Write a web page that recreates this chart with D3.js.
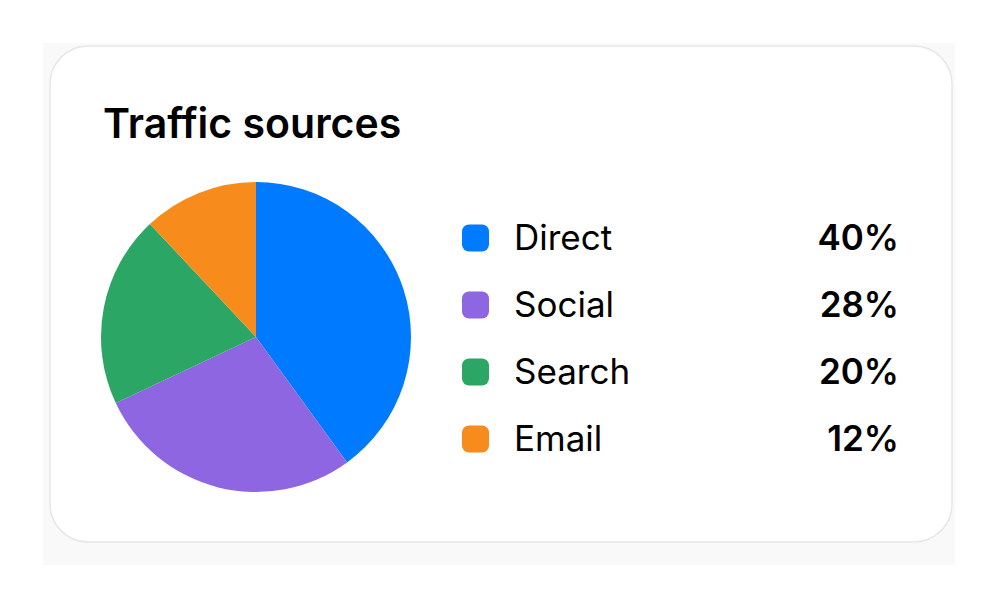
<!DOCTYPE html>
<html><head><meta charset="utf-8">
<script src="https://cdn.jsdelivr.net/npm/d3@7"></script>
<style>
html,body{margin:0;padding:0;background:#fff;}
svg{display:block;font-family:Inter,"Noto Sans",sans-serif;}
</style></head>
<body>
<svg id="chart" width="1000" height="611"></svg>
<script>
const title = "Traffic sources";
const categories = ["Direct", "Social", "Search", "Email"];
const values = [40, 28, 20, 12];
const colors = ["#007AFF", "#8E66E2", "#2CA665", "#F78C1C"];

const svg = d3.select("#chart");

// shadow backdrop + card
svg.append("rect").attr("x", 43).attr("y", 43).attr("width", 912).attr("height", 522).attr("fill", "#f9f9f9");
svg.append("rect").attr("x", 50).attr("y", 46).attr("width", 902).attr("height", 496)
  .attr("rx", 38).attr("fill", "#fff").attr("stroke", "#e7e7e7").attr("stroke-width", 1.5);

svg.append("text").attr("x", 103).attr("y", 138).text(title)
  .attr("font-size", 41).attr("font-weight", 600).attr("fill", "#000");

const pie = d3.pie().sort(null).value(d => d)(values);
const arc = d3.arc().innerRadius(0).outerRadius(155);
const g = svg.append("g").attr("transform", "translate(256,337)");
g.selectAll("path").data(pie).join("path")
  .attr("d", arc).attr("fill", (d, i) => colors[i]);

const y = d3.scalePoint().domain(categories).range([238, 439]);
const leg = svg.append("g");
const rows = leg.selectAll("g").data(categories).join("g")
  .attr("transform", d => `translate(0,${y(d)})`);
rows.append("rect").attr("x", 462).attr("y", -13.5).attr("width", 27).attr("height", 27)
  .attr("rx", 7).attr("fill", (d, i) => colors[i]);
rows.append("text").attr("x", 514).attr("y", 0).attr("dy", "0.35em")
  .attr("font-size", 35).attr("fill", "#000").text(d => d);
rows.append("text").attr("x", 899).attr("y", 0).attr("dy", "0.35em")
  .attr("text-anchor", "end").attr("font-size", 35).attr("font-weight", 600)
  .attr("fill", "#000").text((d, i) => values[i] + "%");
</script>
</body></html>
